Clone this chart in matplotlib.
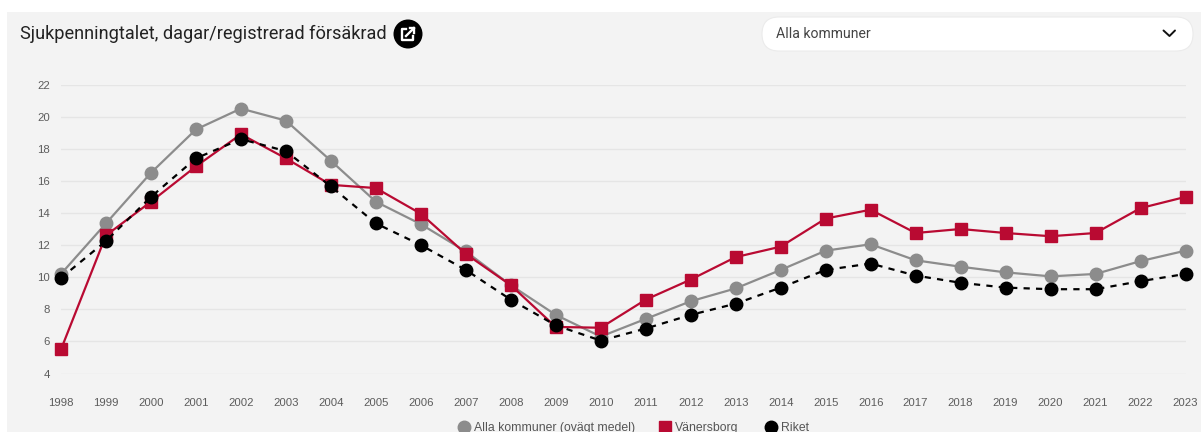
import matplotlib
matplotlib.use("Agg")
import matplotlib.pyplot as plt
from matplotlib.patches import FancyBboxPatch, Rectangle, Circle

years = list(range(1998, 2024))
yticks = [4, 6, 8, 10, 12, 14, 16, 18, 20, 22]
title = "Sjukpenningtalet, dagar/registrerad försäkrad"
dropdown = "Alla kommuner"
names = ["Alla kommuner (ovägt medel)", "Vänersborg", "Riket"]
alla = [10.2, 13.35, 16.5, 19.2, 20.5, 19.75, 17.25, 14.7, 13.3, 11.6, 9.5, 7.65, 6.3,
        7.4, 8.5, 9.3, 10.45, 11.65, 12.05, 11.05, 10.65, 10.3, 10.05, 10.2, 11.0, 11.65]
vanersborg = [5.5, 12.6, 14.7, 16.9, 18.9, 17.4, 15.75, 15.55, 13.95, 11.45, 9.5, 6.9, 6.85,
              8.6, 9.85, 11.25, 11.9, 13.65, 14.2, 12.75, 13.0, 12.75, 12.55, 12.75, 14.3, 15.0]
riket = [9.95, 12.25, 15.0, 17.4, 18.6, 17.85, 15.65, 13.35, 12.0, 10.45, 8.6, 7.0, 6.05,
         6.8, 7.65, 8.35, 9.35, 10.45, 10.85, 10.1, 9.65, 9.35, 9.25, 9.25, 9.75, 10.2]

W, H = 1201, 432
fig = plt.figure(figsize=(W / 100, H / 100), dpi=100, facecolor="white")

# pixel overlay (y down) for the page chrome
bg = fig.add_axes([0, 0, 1, 1], zorder=0)
bg.set_xlim(0, W); bg.set_ylim(H, 0); bg.axis("off")
bg.add_patch(Rectangle((7, 12), W - 7, H - 12, fc="#f3f3f3", ec="none"))
bg.add_patch(FancyBboxPatch((762 + 17, 17 + 17), 431 - 34, 0.01,
                            boxstyle="round,pad=17,rounding_size=17",
                            fc="white", ec="#ebebeb", lw=0.8))
bg.text(20.5, 33.5, title, family="Roboto", fontsize=13.1, color="#222222", va="center", ha="left")
bg.text(776, 33.5, dropdown, family="Roboto", fontsize=10.1, color="#444444", va="center", ha="left")
bg.plot([1163.5, 1169.5, 1175], [30.5, 36, 30.5], color="#111111", lw=1.4, solid_capstyle="round",
        solid_joinstyle="round")
bg.add_patch(Circle((408, 34), 14.5, fc="black", ec="none"))
bg.plot([406, 402, 402, 413, 413], [29, 29, 40, 40, 36], color="white", lw=1.7)
bg.plot([406, 414], [36, 28], color="white", lw=1.7)
bg.plot([409.5, 414, 414], [28, 28, 32.5], color="white", lw=1.7)

# chart
ax = fig.add_axes([61 / W, 1 - 373.5 / H, (1185.5 - 61) / W, (373.5 - 84.5) / H], zorder=1)
ax.patch.set_alpha(0)
ax.set_xlim(1998, 2023); ax.set_ylim(4, 22)
for s in ax.spines.values():
    s.set_visible(False)
ax.set_yticks(yticks); ax.set_xticks(years)
ax.tick_params(length=0, labelsize=8.2, labelcolor="#5c5c5c", pad=0)
ax.tick_params(axis="y", pad=8)
ax.tick_params(axis="x", pad=17.5)
for t in ax.get_xticklabels() + ax.get_yticklabels():
    t.set_family("Liberation Sans")
ax.grid(axis="y", color="#e5e5e5", lw=1)
ax.set_axisbelow(True)

ax.plot(years, alla, color="#8c8c8c", lw=1.6, marker="o", ms=9, mec="#8c8c8c", clip_on=False, zorder=3)
ax.plot(years, vanersborg, color="#b90a32", lw=1.6, marker="s", ms=8.8, mec="#b90a32", clip_on=False, zorder=4)
ax.plot(years, riket, color="black", lw=1.6, ls=(0, (2.8, 2.8)), marker="o", ms=9, mec="black",
        clip_on=False, zorder=5)

# legend, cut by the lower edge as in the source
bg2 = fig.add_axes([0, 0, 1, 1], zorder=2)
bg2.set_xlim(0, W); bg2.set_ylim(H, 0); bg2.axis("off")
lg = [(463.5, "o", "#8c8c8c", 473.5, names[0]),
      (664.5, "s", "#b90a32", 675, names[1]),
      (770.5, "o", "black", 781, names[2])]
for x, m, c, tx, label in lg:
    bg2.plot([x], [426.5], marker=m, ms=9 if m == "o" else 8.8, color=c, mec=c, clip_on=True, ls="none")
    bg2.text(tx, 431, label, family="Liberation Sans", fontsize=8.8, color="#555555", va="baseline", ha="left")

fig.savefig("out.png", dpi=100, facecolor="white")
